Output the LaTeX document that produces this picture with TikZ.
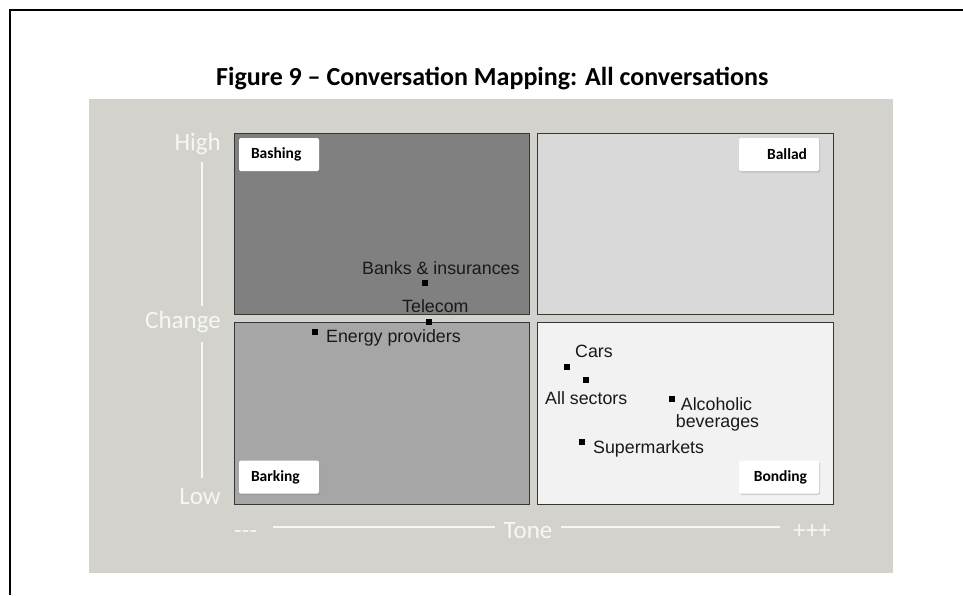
\documentclass[tikz,border=0pt]{standalone}
\usepackage{fontspec}
\setmainfont{Carlito}
\newfontfamily\arialf{Liberation Sans}
\usetikzlibrary{shadows}
\definecolor{bgray}{RGB}{211,210,205}
\definecolor{qTL}{RGB}{128,128,128}
\definecolor{qTR}{RGB}{217,217,217}
\definecolor{qBL}{RGB}{166,166,166}
\definecolor{qBR}{RGB}{242,242,242}
\definecolor{axw}{RGB}{247,247,245}
\definecolor{qedge}{RGB}{55,55,55}
\begin{document}
\begin{tikzpicture}[x=1pt,y=-1pt,
  quad/.style={draw=qedge, line width=0.9pt, inner sep=0pt},
  tagbox/.style={fill=white, rounded corners=1.5pt, minimum width=80pt, minimum height=33pt,
    text width=56pt, inner sep=0pt,
    drop shadow={shadow xshift=1pt, shadow yshift=-1.5pt, opacity=0.3},
    font=\fontsize{15.5}{18}\selectfont\bfseries},
  pt/.style={fill=black, minimum size=6pt, inner sep=0pt},
  lbl/.style={font=\arialf\fontsize{17.8}{17}\selectfont, inner sep=0pt, text=black!90},
  axlbl/.style={font=\fontsize{25}{28}\selectfont, text=axw, inner sep=0pt},
  axline/.style={draw=axw, line width=2.8pt}
]
\useasboundingbox (0,0) rectangle (963,595);
% frame
\draw[line width=2.2pt] (10,595) -- (10,10) -- (963,10);
% title
\node[anchor=base west, inner sep=0pt, font=\fontsize{26}{30}\selectfont\bfseries] (title) at (216,85)
  {Figure 9 – Conversation Mapping: All conversations};
% background
\fill[bgray] (89,99) rectangle (893,573);
% quadrants
\node[quad, fill=qTL, minimum width=295pt, minimum height=181pt] (qtl) at (381.5,223.5) {};
\node[quad, fill=qTR, minimum width=296pt, minimum height=181pt] (qtr) at (685,223.5) {};
\node[quad, fill=qBL, minimum width=295pt, minimum height=182pt] (qbl) at (381.5,413) {};
\node[quad, fill=qBR, minimum width=296pt, minimum height=182pt] (qbr) at (685,413) {};
% tags
\node[tagbox, align=left] (bashing) at (279,154.5) {Bashing};
\node[tagbox, align=right] (ballad) at (779,154.5) {Ballad};
\node[tagbox, align=left] (barking) at (279,477) {Barking};
\node[tagbox, align=right] (bonding) at (779,477) {Bonding};
% axis labels
\node[axlbl, anchor=base east] (high) at (221,150) {High};
\node[axlbl, anchor=base east] (change) at (221,328) {Change};
\node[axlbl, anchor=base east] (low) at (221,504) {Low};
\node[axlbl, anchor=base west] (minus) at (234,538) {-{}-{}-};
\node[axlbl, anchor=base] (tone) at (528,538) {Tone};
\node[axlbl, anchor=base west] (plus) at (793,538) {+++};
\coordinate (v1) at (202,162);
\coordinate (v2) at (202,306);
\coordinate (v3) at (202,342);
\coordinate (v4) at (202,478);
\coordinate (h1) at (273,527);
\coordinate (h2) at (495,527);
\coordinate (h3) at (561,527);
\coordinate (h4) at (780,527);
\draw[axline] (v1) -- (v2);
\draw[axline] (v3) -- (v4);
\draw[axline] (h1) -- (h2);
\draw[axline] (h3) -- (h4);
% data points
\node[pt] (pbanks) at (425,283) {};
\node[pt] (ptele) at (429,322) {};
\node[pt] (penergy) at (315,332) {};
\node[pt] (pcars) at (567,367) {};
\node[pt] (pall) at (586,380) {};
\node[pt] (palc) at (672,399) {};
\node[pt] (psuper) at (582,442) {};
% data labels
\node[lbl, anchor=base west] (lbanks) at (362,274) {Banks \& insurances};
\node[lbl, anchor=base west] (ltele) at (402,312) {Telecom};
\node[lbl, anchor=base west] (lenergy) at (326,342) {Energy providers};
\node[lbl, anchor=base west] (lcars) at (575,357) {Cars};
\node[lbl, anchor=base west] (lall) at (545,404) {All sectors};
\node[lbl, anchor=base] (lalc1) at (716.5,410) {Alcoholic};
\node[lbl, anchor=base] (lalc2) at (717.5,427) {beverages};
\node[lbl, anchor=base west] (lsuper) at (593,453) {Supermarkets};
\end{tikzpicture}
\end{document}
